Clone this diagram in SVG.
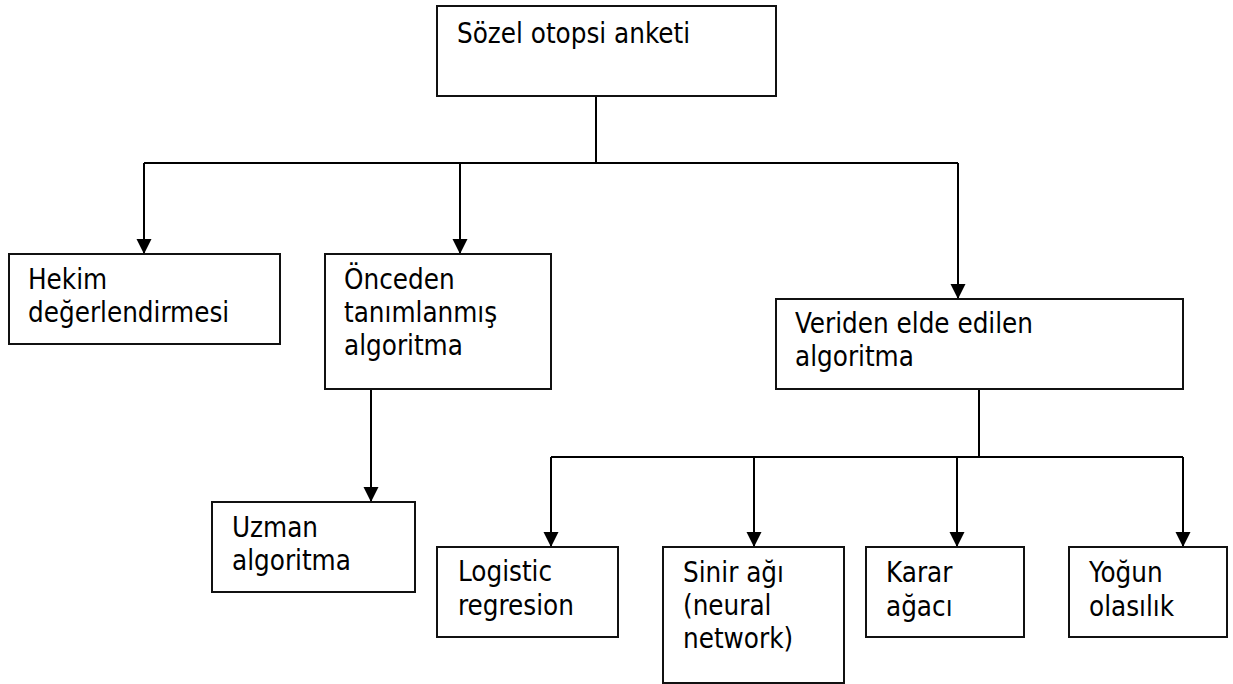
<svg xmlns="http://www.w3.org/2000/svg" width="1233" height="684" viewBox="0 0 1233 684">
  <style>
    .box { fill: #ffffff; stroke: #111111; stroke-width: 2; }
    .lbl { font-family: "DejaVu Sans Condensed", "DejaVu Sans", sans-serif; font-size: 27.5px; fill: #000000; }
    .conn { fill: none; stroke: #000000; stroke-width: 2; }
  </style>
  <defs>
    <marker id="arrow" markerUnits="userSpaceOnUse" markerWidth="16" markerHeight="16" refX="15" refY="8" orient="auto">
      <path d="M0,0.5 L15,8 L0,15.5 z" fill="#000000"/>
    </marker>
  </defs>
  <rect width="1233" height="684" fill="#ffffff"/>

  <g id="connectors">
    <path class="conn" d="M596,96 V163"/>
    <path class="conn" d="M144,163 H958"/>
    <path class="conn" d="M144,163 V254" marker-end="url(#arrow)"/>
    <path class="conn" d="M460,163 V254" marker-end="url(#arrow)"/>
    <path class="conn" d="M958,163 V299" marker-end="url(#arrow)"/>
    <path class="conn" d="M371,389 V502" marker-end="url(#arrow)"/>
    <path class="conn" d="M979,389 V457"/>
    <path class="conn" d="M551,457 H1183"/>
    <path class="conn" d="M551,457 V547" marker-end="url(#arrow)"/>
    <path class="conn" d="M754,457 V547" marker-end="url(#arrow)"/>
    <path class="conn" d="M957,457 V547" marker-end="url(#arrow)"/>
    <path class="conn" d="M1183,457 V547" marker-end="url(#arrow)"/>
  </g>

  <g id="node-sozel">
    <rect class="box" x="437" y="6" width="339" height="90"/>
    <text class="lbl" x="457" y="43">Sözel otopsi anketi</text>
  </g>

  <g id="node-hekim">
    <rect class="box" x="9" y="254" width="271" height="90"/>
    <text class="lbl" x="28" y="289">Hekim</text>
    <text class="lbl" x="28" y="322">değerlendirmesi</text>
  </g>

  <g id="node-onceden">
    <rect class="box" x="325" y="254" width="226" height="135"/>
    <text class="lbl" x="344" y="289">Önceden</text>
    <text class="lbl" x="344" y="322">tanımlanmış</text>
    <text class="lbl" x="344" y="355">algoritma</text>
  </g>

  <g id="node-veriden">
    <rect class="box" x="776" y="299" width="407" height="90"/>
    <text class="lbl" x="795" y="333">Veriden elde edilen</text>
    <text class="lbl" x="795" y="366">algoritma</text>
  </g>

  <g id="node-uzman">
    <rect class="box" x="212" y="502" width="203" height="90"/>
    <text class="lbl" x="232" y="537">Uzman</text>
    <text class="lbl" x="232" y="570">algoritma</text>
  </g>

  <g id="node-logistic">
    <rect class="box" x="437" y="547" width="181" height="90"/>
    <text class="lbl" x="458" y="581">Logistic</text>
    <text class="lbl" x="458" y="615">regresion</text>
  </g>

  <g id="node-sinir">
    <rect class="box" x="663" y="547" width="181" height="136"/>
    <text class="lbl" x="683" y="582">Sinir ağı</text>
    <text class="lbl" x="683" y="615">(neural</text>
    <text class="lbl" x="683" y="648">network)</text>
  </g>

  <g id="node-karar">
    <rect class="box" x="866" y="547" width="158" height="90"/>
    <text class="lbl" x="886" y="582">Karar</text>
    <text class="lbl" x="886" y="616">ağacı</text>
  </g>

  <g id="node-yogun">
    <rect class="box" x="1069" y="547" width="158" height="90"/>
    <text class="lbl" x="1089" y="582">Yoğun</text>
    <text class="lbl" x="1089" y="616">olasılık</text>
  </g>
</svg>
